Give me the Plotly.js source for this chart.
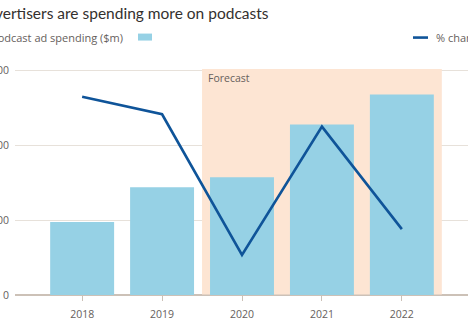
<!DOCTYPE html>
<html>
<head>
<meta charset="utf-8">
<script src="https://cdn.plot.ly/plotly-3.0.1.min.js"></script>
<style>
html,body{margin:0;padding:0;width:468px;height:328px;overflow:hidden;background:#fff;}
#chart{position:absolute;left:-40px;top:0;width:550px;height:328px;}
</style>
</head>
<body>
<div id="chart"></div>
<script>
// ---- data ----
const years = ['2018', '2019', '2020', '2021', '2022'];
const adSpending = [487, 720, 787, 1140, 1340];      // US podcast ad spending ($m)
const pctChange = [53, 48.3, 10.7, 45, 17.6];        // % change
const yTicks = [0, 500, 1000, 1500];
const yTickLabels = ['0', '500', '1,000', '1,500'];
const forecastLabel = 'Forecast';
const titleText = 'Advertisers are spending more on podcasts';
const barLegendText = 'US podcast ad spending ($m)';
const lineLegendText = '% change';

// page-pixel helpers (plot area: page x 15..469, page y 68.5..295)
const PX0 = 15, PW = 454, PY0 = 295, PH = 226.5;
const fx = p => (p - PX0) / PW;
const fy = p => (PY0 - p) / PH;

const grey = '#66605c';
const barColor = '#96d1e5';
const lineColor = '#0f5499';
const bandColor = '#fde5d3';

const traces = [
  {
    type: 'bar', x: years, y: adSpending, marker: {color: barColor},
    hoverinfo: 'skip', showlegend: false
  },
  {
    type: 'scatter', mode: 'lines', x: years, y: pctChange, yaxis: 'y2',
    line: {color: lineColor, width: 2.6}, hoverinfo: 'skip', showlegend: false
  }
];

const layout = {
  width: 550, height: 328,
  margin: {l: 55, r: 41, t: 68.5, b: 33},
  paper_bgcolor: '#fff', plot_bgcolor: '#fff',
  font: {family: 'Open Sans, sans-serif', color: grey, size: 11},
  bargap: 0.2,
  xaxis: {
    type: 'category', range: [-0.84, 4.84],
    showgrid: false, zeroline: false, showline: false,
    ticks: 'outside', ticklen: 5, tickcolor: '#ccc1b7', tickwidth: 1,
    ticklabelstandoff: 4,
    tickfont: {size: 10.5, color: grey}, fixedrange: true
  },
  yaxis: {
    range: [0, 1510], tickvals: yTicks, ticktext: yTickLabels,
    showgrid: true, gridcolor: '#e7e1da', gridwidth: 1,
    zeroline: true, zerolinecolor: '#ccc1b7', zerolinewidth: 1.5,
    showline: false, ticks: '', ticklen: 0, ticklabelstandoff: 5,
    tickfont: {size: 10.5, color: grey}, fixedrange: true
  },
  yaxis2: {
    overlaying: 'y', side: 'right', range: [0, 60.4],
    showgrid: false, zeroline: false, showticklabels: false, fixedrange: true
  },
  shapes: [
    {type: 'rect', layer: 'between', xref: 'x', yref: 'y',
     x0: 1.5, x1: 4.5, y0: 3, y1: 1510, fillcolor: bandColor, line: {width: 0}},
    {type: 'rect', xref: 'paper', yref: 'paper',
     x0: fx(138), x1: fx(152), y0: fy(40), y1: fy(33), fillcolor: barColor, line: {width: 0}},
    {type: 'line', xref: 'paper', yref: 'paper',
     x0: fx(413), x1: fx(428), y0: fy(37), y1: fy(37), line: {color: lineColor, width: 2.6}}
  ],
  annotations: [
    {text: titleText, xref: 'paper', yref: 'paper', x: fx(271), y: fy(12.5),
     xanchor: 'right', yanchor: 'middle', showarrow: false,
     font: {family: 'Lato, sans-serif', size: 15.5, color: '#33302e'}},
    {text: barLegendText, xref: 'paper', yref: 'paper', x: fx(125), y: fy(37),
     xanchor: 'right', yanchor: 'middle', showarrow: false,
     font: {size: 11, color: grey}},
    {text: lineLegendText, xref: 'paper', yref: 'paper', x: fx(434), y: fy(37),
     xanchor: 'left', yanchor: 'middle', showarrow: false,
     font: {size: 11, color: grey}},
    {text: forecastLabel, xref: 'x', yref: 'paper', x: 1.5, y: fy(69),
     xanchor: 'left', yanchor: 'top', xshift: 4, showarrow: false,
     font: {size: 10.5, color: grey}}
  ]
};

Plotly.newPlot('chart', traces, layout, {displayModeBar: false, staticPlot: true});
</script>
</body>
</html>
